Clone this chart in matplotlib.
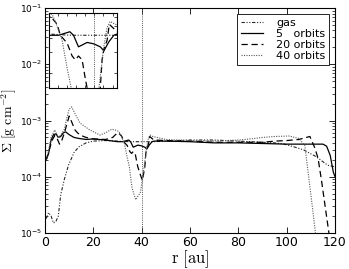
import numpy as np
import matplotlib
matplotlib.use('Agg')
import matplotlib.pyplot as plt
from matplotlib.ticker import MultipleLocator, LogLocator, NullFormatter

plt.rcParams['mathtext.fontset'] = 'cm'
plt.rcParams['font.family'] = 'DejaVu Sans'

# surface density profiles
r_gas = [0.5, 1.5, 2.5, 3.5, 4.5, 5.5, 6.5, 8, 9.7, 12, 14, 17, 20, 25, 30, 35,
         40, 45, 50, 60, 70, 80, 90, 95, 99, 103, 107, 112, 117, 120]
sig_gas = [1.8e-5, 2.3e-5, 2.0e-5, 1.5e-5, 1.6e-5, 2.0e-5, 4.8e-5, 9e-5, 1.6e-4,
           2.7e-4, 3.4e-4, 4.0e-4, 4.3e-4, 4.4e-4, 4.3e-4, 4.2e-4, 4.2e-4, 4.2e-4,
           4.3e-4, 4.5e-4, 4.5e-4, 4.3e-4, 4.1e-4, 4.0e-4, 3.8e-4, 3.4e-4, 3.0e-4,
           2.3e-4, 1.6e-4, 1.5e-4]

r_5 = [0.5, 1.5, 2.5, 3.5, 4.5, 5.5, 6.5, 7.5, 8.5, 10, 12, 14, 17, 20, 25, 30,
       32.1, 34.6, 35.4, 36.5, 38.4, 39.9, 41.3, 42.1, 43.2, 44.3, 45, 50, 60, 70,
       80, 90, 100, 110, 115, 116.5, 118, 119.3, 120]
sig_5 = [2.0e-4, 2.6e-4, 4.5e-4, 5.6e-4, 5.8e-4, 5.0e-4, 5.2e-4, 6.0e-4, 6.3e-4,
         5.6e-4, 5.0e-4, 4.8e-4, 4.6e-4, 4.7e-4, 4.5e-4, 4.2e-4, 4.2e-4, 4.5e-4,
         4.2e-4, 3.35e-4, 3.65e-4, 3.55e-4, 3.35e-4, 3.1e-4, 3.7e-4, 4.2e-4, 4.3e-4,
         4.3e-4, 4.2e-4, 4.0e-4, 4.0e-4, 3.9e-4, 3.8e-4, 3.8e-4, 3.8e-4, 3.5e-4,
         2.4e-4, 1.2e-4, 1.0e-4]

r_20 = [0.5, 1.5, 3, 4, 5, 6, 7, 8, 9, 10, 11, 12.4, 13.5, 15, 17, 20, 25, 28,
        29.5, 30.3, 31.8, 32.5, 34, 35.1, 35.8, 36.5, 37.3, 38, 38.4, 39.5, 40.3,
        41.3, 41.7, 42.1, 42.8, 43.3, 45, 50, 60, 70, 80, 90, 95, 100, 105, 109.6,
        111.7, 113, 114.5, 115.8, 117.2, 118]
sig_20 = [2.0e-4, 2.8e-4, 4.5e-4, 5.4e-4, 4.8e-4, 3.8e-4, 4.5e-4, 6.0e-4, 8.5e-4,
          1.2e-3, 9.5e-4, 6.8e-4, 6.0e-4, 5.4e-4, 5.0e-4, 4.7e-4, 4.6e-4, 5.0e-4,
          5.8e-4, 6.1e-4, 5.2e-4, 4.2e-4, 3.6e-4, 2.8e-4, 2.6e-4, 2.8e-4, 2.6e-4,
          1.8e-4, 1.5e-4, 1.07e-4, 8.6e-5, 1.5e-4, 2.6e-4, 3.2e-4, 3.8e-4, 5.2e-4,
          4.5e-4, 4.4e-4, 4.3e-4, 4.1e-4, 4.1e-4, 4.1e-4, 4.3e-4, 4.4e-4, 4.6e-4,
          5.2e-4, 3.2e-4, 2.1e-4, 8e-5, 3.2e-5, 1.2e-5, 7e-6]

r_40 = [0.5, 1.5, 2.5, 4, 5.5, 6.5, 8, 9, 10, 11, 12.5, 14.5, 18.5, 22.8, 25.5,
        27.6, 29.5, 30.7, 31.4, 32.9, 34, 34.9, 36, 37.5, 39.5, 41, 42.1, 42.8,
        43.5, 44.6, 50, 60, 70, 80, 85, 90, 95, 101, 105, 107.5, 109, 110.5, 112.5]
sig_40 = [2.0e-4, 3.0e-4, 5.0e-4, 6.8e-4, 5.0e-4, 5.5e-4, 7.0e-4, 1.1e-3, 1.6e-3,
          1.75e-3, 1.3e-3, 9.0e-4, 6.8e-4, 5.5e-4, 6.2e-4, 7.0e-4, 6.7e-4, 6.3e-4,
          5.5e-4, 3.8e-4, 2.2e-4, 1.5e-4, 6.3e-5, 3.9e-5, 5.3e-5, 1.5e-4, 3.4e-4,
          4.9e-4, 5.5e-4, 5.2e-4, 4.6e-4, 4.4e-4, 4.3e-4, 4.5e-4, 4.7e-4, 5.0e-4,
          5.2e-4, 5.3e-4, 4.8e-4, 3.6e-4, 1.07e-4, 3.2e-5, 6e-6]

r_planet = 40

series = [
    (r_gas, sig_gas, 'gas', dict(ls=(0, (3, 1.5, 1, 1.5, 1, 1.5)), color='0.15', lw=0.8)),
    (r_5, sig_5, '5   orbits', dict(ls='-', color='k', lw=0.9)),
    (r_20, sig_20, '20 orbits', dict(ls=(0, (5, 3)), color='k', lw=0.9)),
    (r_40, sig_40, '40 orbits', dict(ls=(0, (1, 1.2)), color='0.35', lw=0.8)),
]

fig = plt.figure(figsize=(3.49, 2.69), dpi=100)
ax = fig.add_axes([0.129, 0.134, 0.831, 0.836])
for r, s, lab, st in series:
    ax.plot(r, s, label=lab, **st)
ax.axvline(r_planet, color='0.35', ls=(0, (1, 1.2)), lw=0.7)
ax.set_yscale('log')
ax.set_xlim(0, 120)
ax.set_ylim(1e-5, 1e-1)
ax.xaxis.set_major_locator(MultipleLocator(20))
ax.yaxis.set_major_locator(LogLocator(base=10, numticks=10))
ax.yaxis.set_minor_locator(LogLocator(base=10, subs=np.arange(2, 10), numticks=10))
ax.yaxis.set_minor_formatter(NullFormatter())
ax.tick_params(which='both', direction='in', top=True, right=True)
ax.tick_params(which='major', length=4, width=0.6, labelsize=9, pad=2)
ax.tick_params(axis='y', which='major', labelsize=6.5)
ax.tick_params(which='minor', length=2, width=0.5)
ax.set_xlabel(r'$\mathrm{r\ [au]}$', fontsize=12, labelpad=0)
ax.set_ylabel(r'$\Sigma\ [\mathrm{g\ cm^{-2}}]$', fontsize=10)
ax.yaxis.set_label_coords(-0.09, 0.5)
leg = ax.legend(loc='upper right', fontsize=8, fancybox=False, edgecolor='k',
                framealpha=1, handlelength=2.0, borderaxespad=0.5,
                labelspacing=0.1, handletextpad=1.2, borderpad=0.35)
leg.get_frame().set_linewidth(0.6)

# inset zoomed around the planet
axin = fig.add_axes([0.1404, 0.673, 0.195, 0.279])
for r, s, lab, st in series:
    axin.plot(r, s, **st)
axin.axvline(r_planet, color='0.35', ls=(0, (1, 1.2)), lw=0.7)
axin.set_yscale('log')
axin.set_xlim(30, 45)
axin.set_ylim(1.5e-4, 6.5e-4)
axin.xaxis.set_major_locator(MultipleLocator(2))
axin.yaxis.set_minor_locator(LogLocator(base=10, subs=np.arange(1, 10), numticks=10))
axin.tick_params(which='both', direction='in', top=True, right=True,
                 labelbottom=False, labelleft=False, length=2, width=0.5)
axin.yaxis.set_minor_formatter(NullFormatter())
axin.yaxis.set_major_formatter(NullFormatter())

fig.savefig('out.png', dpi=100)
